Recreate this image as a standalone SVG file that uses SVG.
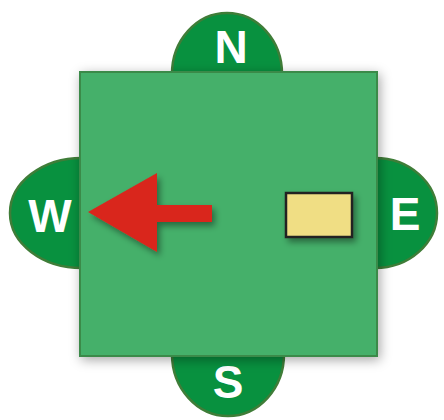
<svg xmlns="http://www.w3.org/2000/svg" width="444" height="420" viewBox="0 0 444 420">
<defs>
<style>
.lobe{fill:#08913f;stroke:#3f7d38;stroke-width:2.5}
.lbl{font-family:"Liberation Sans",Arial,sans-serif;font-weight:bold;font-size:46px;fill:#ffffff;text-anchor:middle}
</style>
<filter id="sh" x="-20%" y="-20%" width="140%" height="140%">
<feDropShadow dx="2" dy="3" stdDeviation="6" flood-color="#000" flood-opacity="0.35"/>
</filter>
<filter id="sh2" x="-30%" y="-30%" width="160%" height="160%">
<feDropShadow dx="3" dy="4" stdDeviation="3" flood-color="#000" flood-opacity="0.4"/>
</filter>
</defs>
<g id="north"><ellipse class="lobe" cx="227" cy="74" rx="55" ry="61"/><text class="lbl" x="231" y="63">N</text></g>
<g id="south"><ellipse class="lobe" cx="228" cy="354" rx="56" ry="62"/><text class="lbl" x="228" y="398">S</text></g>
<g id="west"><ellipse class="lobe" cx="82" cy="213" rx="72" ry="55"/><text class="lbl" x="50" y="232">W</text></g>
<g id="east"><ellipse class="lobe" cx="375" cy="213" rx="62" ry="55"/><text class="lbl" x="405" y="230">E</text></g>
<g id="square"><rect x="80" y="72" width="297" height="284" fill="#45b06a" stroke="#3a8a48" stroke-width="2" filter="url(#sh)"/></g>
<g id="connectors">
<polygon points="88,212 157,173 157,205 212,205 212,222 157,222 157,252" fill="#d9261c" filter="url(#sh2)"/>
</g>
<g id="box"><rect x="286" y="193" width="66" height="44" fill="#f0de84" stroke="#222" stroke-width="2.5" filter="url(#sh2)"/></g>
</svg>
